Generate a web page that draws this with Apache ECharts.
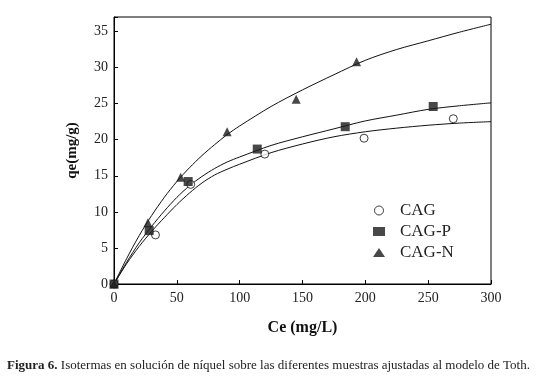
<!DOCTYPE html>
<html>
<head>
<meta charset="utf-8">
<script src="https://cdn.jsdelivr.net/npm/echarts@6/dist/echarts.min.js"></script>
<style>
  html, body { margin: 0; padding: 0; background: #fff; }
  #chart { width: 537px; height: 377px; }
</style>
</head>
<body>
<div id="chart"></div>
<script>
// puntos experimentales [Ce, qe]
var cagPts  = [[0, 0], [33, 6.8], [61, 13.8], [120, 18.0], [199, 20.2], [270, 22.9]];
var cagPPts = [[0, 0], [28, 7.4], [59, 14.2], [114, 18.7], [184, 21.8], [254, 24.6]];
var cagNPts = [[0, 0], [27, 8.5], [53, 14.8], [90, 21.1], [145, 25.6], [193, 30.8]];

// curvas ajustadas (Toth)
var fitX    = [0, 10, 20, 30, 40, 50, 60, 70, 80, 90, 100, 125, 150, 175, 200, 225, 250, 275, 300];
var cagFit  = [0, 2.8, 5.2, 7.3, 9.2, 11.0, 12.6, 14.0, 15.1, 15.9, 16.6, 18.2, 19.4, 20.4, 21.1, 21.6, 22.0, 22.3, 22.5];
var cagPFit = [0, 3.0, 5.7, 8.0, 10.1, 12.0, 13.6, 14.9, 16.0, 16.9, 17.6, 19.2, 20.4, 21.5, 22.6, 23.4, 24.2, 24.7, 25.1];
var cagNFit = [0, 3.5, 6.7, 9.5, 12.0, 14.2, 16.1, 17.8, 19.3, 20.7, 21.9, 24.6, 26.9, 29.0, 31.0, 32.5, 33.7, 34.9, 36.0];

var xTicks = [0, 50, 100, 150, 200, 250, 300];

function pairs(xs, ys) {
  return xs.map(function (x, i) { return [x, ys[i]]; });
}

var serif = 'Liberation Serif';
var myChart = echarts.init(document.getElementById('chart'));

var lineBase = {
  type: 'line',
  smooth: 0.3,
  symbol: 'none',
  silent: true,
  z: 2,
  lineStyle: { color: '#111', width: 1 }
};

var option = {
  backgroundColor: '#fff',
  animation: false,
  title: {
    text: '{b|Figura 6.} Isotermas en solución de níquel sobre las diferentes muestras ajustadas al modelo de Toth.',
    left: 2,
    top: 354,
    textStyle: {
      fontFamily: serif,
      fontSize: 13,
      fontWeight: 'normal',
      color: '#222',
      rich: {
        b: { fontFamily: serif, fontSize: 13, fontWeight: 'bold', color: '#222' }
      }
    }
  },
  grid: {
    left: 114,
    right: 46,
    top: 17,
    bottom: 93,
    show: true,
    borderColor: '#000',
    borderWidth: 1
  },
  legend: {
    orient: 'vertical',
    left: 368,
    top: 197,
    itemGap: 4,
    itemWidth: 12,
    itemHeight: 9,
    selectedMode: false,
    data: [
      { name: 'CAG', icon: 'circle', itemStyle: { color: '#fff', borderColor: '#111', borderWidth: 1 } },
      { name: 'CAG-P', icon: 'rect' },
      { name: 'CAG-N', icon: 'triangle' }
    ],
    textStyle: { fontFamily: serif, fontSize: 17, color: '#222', padding: [0, 0, 0, 10] }
  },
  xAxis: {
    type: 'value',
    min: 0,
    max: 300,
    interval: 50,
    name: 'Ce (mg/L)',
    nameLocation: 'middle',
    nameGap: 36,
    nameTextStyle: { fontFamily: serif, fontSize: 16, fontWeight: 'bold', color: '#111' },
    axisLine: { show: true, lineStyle: { color: '#000', width: 1 } },
    axisTick: { show: true, inside: true, length: 4, lineStyle: { color: '#000' } },
    axisLabel: {
      fontFamily: serif, fontSize: 14, color: '#222', margin: 7,
      formatter: function (v) { return xTicks.indexOf(v) >= 0 ? v : ''; }
    },
    splitLine: { show: false }
  },
  yAxis: {
    type: 'value',
    min: 0,
    max: 37,
    interval: 5,
    name: 'qe(mg/g)',
    nameLocation: 'middle',
    nameGap: 34,
    nameTextStyle: { fontFamily: serif, fontSize: 15, fontWeight: 'bold', color: '#111' },
    axisLine: { show: true, lineStyle: { color: '#000', width: 1 } },
    axisTick: { show: true, inside: true, length: 4, lineStyle: { color: '#000' } },
    axisLabel: {
      fontFamily: serif, fontSize: 14, color: '#222', margin: 6,
      formatter: function (v) { return v % 5 === 0 ? v : ''; }
    },
    splitLine: { show: false }
  },
  series: [
    Object.assign({ data: pairs(fitX, cagFit) }, lineBase),
    Object.assign({ data: pairs(fitX, cagPFit) }, lineBase),
    Object.assign({ data: pairs(fitX, cagNFit) }, lineBase),
    {
      name: 'CAG',
      type: 'scatter',
      symbol: 'circle',
      symbolSize: 8,
      z: 3,
      itemStyle: { color: '#fff', borderColor: '#111', borderWidth: 1 },
      data: cagPts
    },
    {
      name: 'CAG-P',
      type: 'scatter',
      symbol: 'rect',
      symbolSize: 9,
      z: 4,
      itemStyle: { color: '#1a1a1a' },
      data: cagPPts
    },
    {
      name: 'CAG-N',
      type: 'scatter',
      symbol: 'triangle',
      symbolSize: 9,
      z: 5,
      itemStyle: { color: '#1a1a1a' },
      data: cagNPts
    }
  ]
};

myChart.setOption(option);
</script>
</body>
</html>
